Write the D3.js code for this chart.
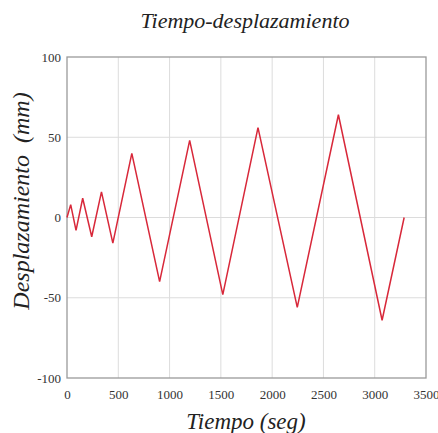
<!DOCTYPE html>
<html>
<head>
<meta charset="utf-8">
<script src="https://cdn.jsdelivr.net/npm/d3@7"></script>
<style>
  svg text { font-family: "Liberation Serif", "Times New Roman", Tinos, serif !important; }
</style>
</head>
<body style="margin:0">
<svg id="chart" width="438" height="433" font-family="Liberation Serif"></svg>
<script>
// Data
const times = [0, 36, 88, 153, 241, 336, 447, 632, 903, 1196, 1519, 1862, 2245, 2646, 3072, 3287];
const displacements = [0, 8, -8, 12, -12, 16, -16, 40, -40, 48, -48, 56, -56, 64, -64, 0];
const xTicks = [0, 500, 1000, 1500, 2000, 2500, 3000, 3500];
const yTicks = [-100, -50, 0, 50, 100];
const titleText = "Tiempo-desplazamiento";
const xLabel = "Tiempo (seg)";
const yLabel = "Desplazamiento\u00A0\u00A0(mm)";

const svg = d3.select("#chart");
const margin = { left: 67, right: 12, top: 57, bottom: 55 };

const x = d3.scaleLinear().domain([0, 3500]).range([margin.left, 426]);
const y = d3.scaleLinear().domain([-100, 100]).range([378, margin.top]);

const serif = "Liberation Serif";

// Grid
const grid = svg.append("g");
grid.selectAll("line.vx").data(xTicks.slice(1, -1)).enter().append("line")
  .attr("x1", d => x(d)).attr("x2", d => x(d))
  .attr("y1", y(100)).attr("y2", y(-100))
  .attr("stroke", "#dcdcdc").attr("stroke-width", 1);
grid.selectAll("line.hy").data(yTicks.slice(1, -1)).enter().append("line")
  .attr("x1", x(0)).attr("x2", x(3500))
  .attr("y1", d => y(d)).attr("y2", d => y(d))
  .attr("stroke", "#dcdcdc").attr("stroke-width", 1);

// Frame
svg.append("rect")
  .attr("x", x(0)).attr("y", y(100))
  .attr("width", x(3500) - x(0)).attr("height", y(-100) - y(100))
  .attr("fill", "none").attr("stroke", "#9a9a9a").attr("stroke-width", 1.3);

// Axes
const xAxis = d3.axisBottom(x).tickValues(xTicks).tickSize(0).tickPadding(12).tickFormat(d => String(d));
const yAxis = d3.axisLeft(y).tickValues(yTicks).tickSize(0).tickPadding(6).tickFormat(d => String(d));

const gx = svg.append("g").attr("transform", `translate(0,${y(-100)})`).call(xAxis);
const gy = svg.append("g").attr("transform", `translate(${x(0)},0)`).call(yAxis);
[gx, gy].forEach(g => {
  g.select(".domain").remove();
  g.attr("font-family", serif).attr("font-size", 13);
  g.selectAll("text").attr("font-family", serif).attr("fill", "#333");
});

// Line
const line = d3.line().x((d, i) => x(times[i])).y(d => y(d));
svg.append("path")
  .datum(displacements)
  .attr("d", line)
  .attr("fill", "none")
  .attr("stroke", "#d8283a")
  .attr("stroke-width", 1.5)
  .attr("stroke-linejoin", "miter");

// Title
svg.append("text")
  .attr("x", 245).attr("y", 28)
  .attr("text-anchor", "middle")
  .attr("font-family", serif).attr("font-style", "italic")
  .attr("font-size", 22).attr("fill", "#222")
  .text(titleText);

// X label
svg.append("text")
  .attr("x", 246).attr("y", 429)
  .attr("text-anchor", "middle")
  .attr("font-family", serif).attr("font-style", "italic")
  .attr("font-size", 23).attr("fill", "#222")
  .text(xLabel);

// Y label
svg.append("text")
  .attr("transform", "translate(29,201) rotate(-90)")
  .attr("text-anchor", "middle")
  .attr("font-family", serif).attr("font-style", "italic")
  .attr("font-size", 24).attr("fill", "#222")
  .text(yLabel);
</script>
</body>
</html>
